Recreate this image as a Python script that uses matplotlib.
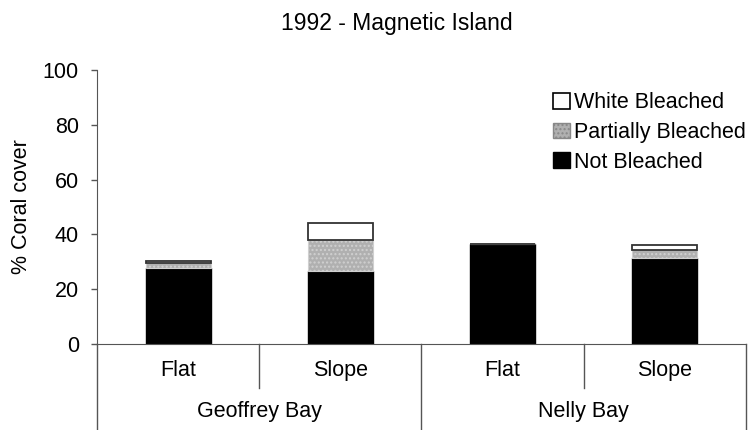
import numpy as np
import matplotlib.pyplot as plt
from matplotlib.patches import Patch

plt.rcParams['font.family'] = ['Liberation Sans', 'DejaVu Sans']

zones = ['Flat', 'Slope', 'Flat', 'Slope']
bays = ['Geoffrey Bay', 'Nelly Bay']
not_bleached = [27.8, 26.5, 36.6, 31.3]
partially_bleached = [1.6, 11.3, 0.0, 2.9]
white_bleached = [1.0, 6.5, 0.0, 2.0]

fig = plt.figure(figsize=(7.49, 4.30), dpi=100)
ax = fig.add_axes([0.1295, 0.2, 0.8665, 0.637])

x = np.arange(len(zones))
nb = np.array(not_bleached)
pb = np.array(partially_bleached)
wb = np.array(white_bleached)
w = 0.4

ax.bar(x, nb, w, color='black', edgecolor='black', linewidth=1)
ax.bar(x, pb, w, bottom=nb, color='#b0b0b0', edgecolor='#d0d0d0', linewidth=0.8, hatch='....')
ax.bar(x, wb, w, bottom=nb + pb, color='white', edgecolor='#333333', linewidth=1.3)

ax.set_xlim(-0.5, 3.5)
ax.set_ylim(0, 100)
ax.set_yticks([0, 20, 40, 60, 80, 100])
ax.tick_params(axis='y', labelsize=15.5, length=4, width=1, pad=9, color='#555555')
ax.set_xticks([])
ax.set_ylabel('% Coral cover', fontsize=15.5, labelpad=8)

for s in ['top', 'right']:
    ax.spines[s].set_visible(False)
ax.spines['left'].set_color('#555555')
ax.spines['bottom'].set_color('#555555')

# category table under the axis
tr = ax.get_xaxis_transform()
lc = '#555555'
for xv in [0.5, 2.5]:
    ax.plot([xv, xv], [0, -0.16], transform=tr, color=lc, lw=1, clip_on=False)
for xv in [-0.5, 1.5, 3.5]:
    ax.plot([xv, xv], [0, -0.32], transform=tr, color=lc, lw=1, clip_on=False)
for i, z in enumerate(zones):
    ax.text(i, -0.095, z, transform=tr, ha='center', va='center', fontsize=15.5)
for i, b in enumerate(bays):
    ax.text(2 * i + 0.5, -0.245, b, transform=tr, ha='center', va='center', fontsize=15.5)

fig.text(0.53, 0.945, '1992 - Magnetic Island', ha='center', va='center', fontsize=16.5)

handles = [
    Patch(facecolor='white', edgecolor='black', linewidth=1.2, label='White Bleached'),
    Patch(facecolor='#b0b0b0', edgecolor='#888888', hatch='....', label='Partially Bleached'),
    Patch(facecolor='black', edgecolor='black', label='Not Bleached'),
]
ax.legend(handles=handles, loc='upper left', bbox_to_anchor=(0.69, 0.95), frameon=False,
          fontsize=15.5, handlelength=0.75, handleheight=0.75, handletextpad=0.2,
          labelspacing=0.4, borderaxespad=0)

fig.savefig('out.png', dpi=100)
